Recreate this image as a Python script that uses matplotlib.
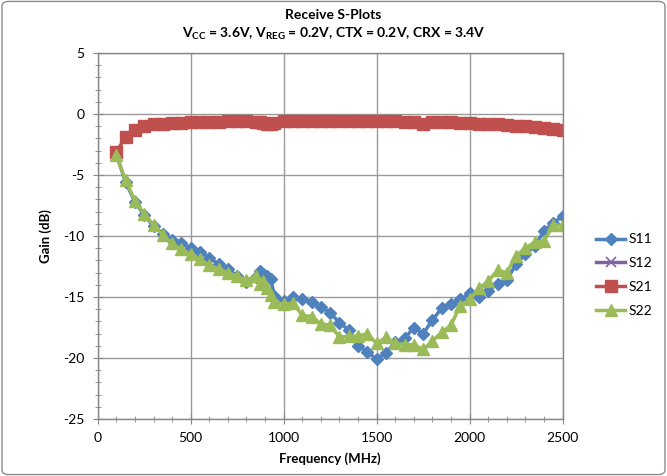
import numpy as np
import matplotlib
matplotlib.use("Agg")
import matplotlib.pyplot as plt
from matplotlib.patches import FancyBboxPatch
from matplotlib.ticker import MultipleLocator

plt.rcParams['font.family'] = ['Lato', 'DejaVu Sans']
plt.rcParams['mathtext.fontset'] = 'custom'
plt.rcParams['mathtext.rm'] = 'Lato'
plt.rcParams['mathtext.bf'] = 'Lato:bold'
plt.rcParams['axes.unicode_minus'] = False

# frequency points (MHz), finer steps around 850-950
freq = [100, 150, 200, 250, 300, 350, 400, 450, 500, 550, 600, 650, 700, 750, 800,
        850, 870, 890, 910, 930, 950,
        1000, 1050, 1100, 1150, 1200, 1250, 1300, 1350, 1400, 1450, 1500, 1550, 1600,
        1650, 1700, 1750, 1800, 1850, 1900, 1950, 2000, 2050, 2100, 2150, 2200, 2250,
        2300, 2350, 2400, 2450, 2500]

s11 = [-3.3, -5.6, -7.2, -8.3, -9.2, -9.8, -10.3, -10.6, -11.0, -11.3, -11.8, -12.3, -12.7, -13.3, -13.8,
       -13.4, -12.9, -13.1, -13.3, -13.5, -14.9,
       -15.3, -15.0, -15.2, -15.4, -15.8, -16.3, -17.1, -17.7, -19.0, -19.5, -20.1, -19.6, -18.7,
       -18.4, -17.5, -18.0, -16.9, -15.9, -15.6, -15.2, -14.7, -15.0, -14.5, -13.9, -13.6, -12.3,
       -11.5, -10.8, -9.6, -8.9, -8.4]

s12 = []  # not visible within the plotted range

s21 = [-3.1, -1.9, -1.3, -1.0, -0.85, -0.8, -0.75, -0.7, -0.68, -0.65, -0.63, -0.62, -0.6, -0.6, -0.6,
       -0.62, -0.65, -0.7, -0.8, -0.78, -0.7,
       -0.6, -0.58, -0.57, -0.56, -0.56, -0.55, -0.55, -0.56, -0.57, -0.58, -0.6, -0.6, -0.6,
       -0.62, -0.68, -0.8, -0.68, -0.65, -0.66, -0.7, -0.75, -0.78, -0.82, -0.86, -0.92, -0.97,
       -1.02, -1.08, -1.13, -1.2, -1.3]

s22 = [-3.4, -5.45, -7.1, -8.2, -9.1, -9.9, -10.6, -11.1, -11.5, -11.9, -12.4, -12.7, -13.0, -13.3, -13.6,
       -13.3, -13.9, -13.7, -14.3, -14.8, -15.4,
       -15.6, -15.5, -16.5, -16.6, -17.2, -17.3, -18.3, -18.2, -18.2, -18.0, -18.8, -18.3, -18.8,
       -18.9, -18.9, -19.3, -18.6, -17.9, -17.3, -15.7, -15.2, -14.3, -13.7, -12.8, -13.0, -11.6,
       -11.0, -10.5, -10.4, -9.1, -9.1]

fig = plt.figure(figsize=(6.67, 4.76), dpi=100)
ax = fig.add_axes([0.1465, 0.1197, 0.697, 0.769])

ax.plot(freq, s11, color='#4F81BD', lw=2.5, marker='D', ms=6, label='S11')
ax.plot(s12 and freq or [], s12, color='#8064A2', lw=2.5, marker='x', ms=7, mew=1.2, label='S12')
ax.plot(freq, s21, color='#C0504D', lw=2.5, marker='s', ms=8.5, label='S21')
ax.plot(freq, s22, color='#9BBB59', lw=2.5, marker='^', ms=9, label='S22')

ax.set_xlim(0, 2500)
ax.set_ylim(-25, 5)
ax.xaxis.set_major_locator(MultipleLocator(500))
ax.xaxis.set_minor_locator(MultipleLocator(100))
ax.yaxis.set_major_locator(MultipleLocator(5))
ax.yaxis.set_minor_locator(MultipleLocator(1))
ax.grid(True, which='major', color='#9a9a9a', lw=1)
ax.set_axisbelow(True)
for sp in ax.spines.values():
    sp.set_color('#868686')
    sp.set_linewidth(1)
ax.tick_params(which='major', direction='inout', length=7, color='#868686',
               labelsize=10, pad=6)
ax.tick_params(which='minor', direction='inout', length=5, color='#868686')

ax.set_xlabel('Frequency (MHz)', fontsize=9.5, fontweight='bold', labelpad=6)
ax.set_ylabel('Gain (dB)', fontsize=9.5, fontweight='bold', labelpad=8)

fig.text(0.5, 0.968, 'Receive S-Plots', ha='center', va='center',
         fontsize=10, fontweight='bold')
fig.text(0.5, 0.928,
         r'V$_\mathbf{CC}$ = 3.6V, V$_\mathbf{REG}$ = 0.2V, CTX = 0.2V, CRX = 3.4V',
         ha='center', va='center', fontsize=10, fontweight='bold')

ax.legend(loc='center left', bbox_to_anchor=(0.875, 0.422),
          bbox_transform=fig.transFigure, frameon=False, fontsize=10,
          handlelength=2.1, labelspacing=0.85, handletextpad=0.2)

border = FancyBboxPatch((0.003, 0.003), 0.994, 0.994, boxstyle='round,pad=0,rounding_size=0.01',
                        transform=fig.transFigure, fill=False, edgecolor='#8c8c8c', lw=1)
fig.patches.append(border)

fig.savefig('out.png', dpi=100)
